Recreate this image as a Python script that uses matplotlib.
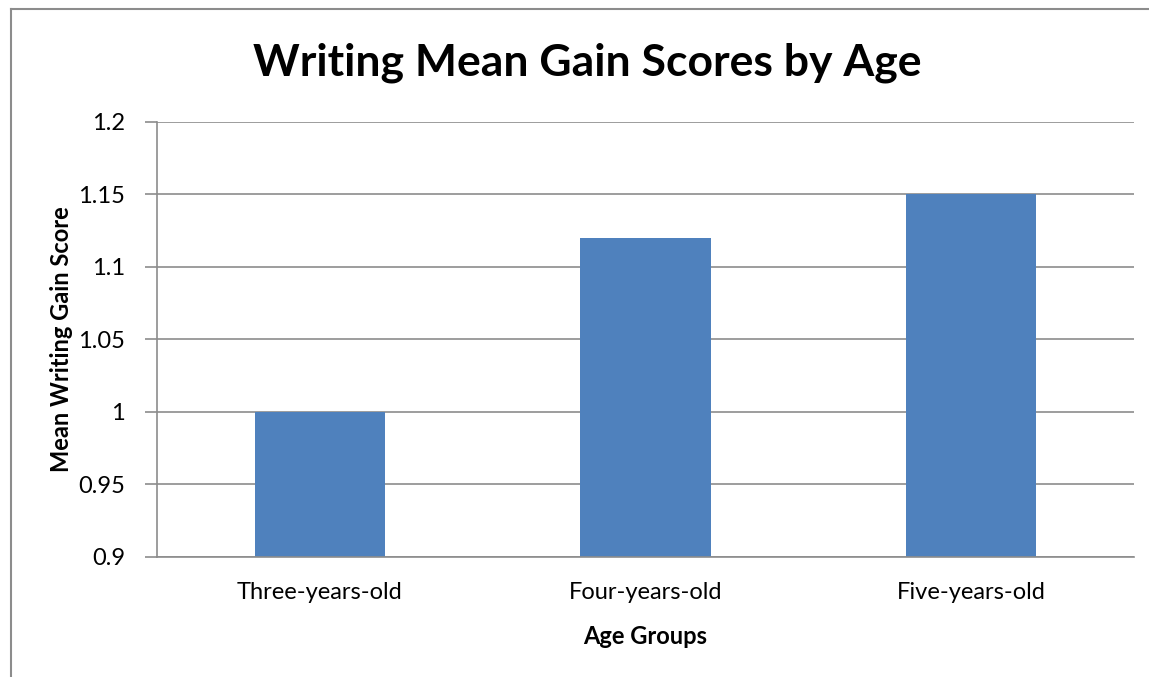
import matplotlib.pyplot as plt
from matplotlib.lines import Line2D

groups = ['Three-years-old', 'Four-years-old', 'Five-years-old']
gains = [1.00, 1.12, 1.15]
yticks = [0.9, 0.95, 1.0, 1.05, 1.1, 1.15, 1.2]
ytick_labels = ['0.9', '0.95', '1', '1.05', '1.1', '1.15', '1.2']

plt.rcParams['font.family'] = ['Lato', 'DejaVu Sans']

fig = plt.figure(figsize=(11.49, 6.77), dpi=100)
ax = fig.add_axes([0.1366, 0.1773, 0.8503, 0.6425])

x = range(len(groups))
ax.bar(x, gains, width=0.4, color='#4F81BD', zorder=2)
ax.set_xlim(-0.5, 2.5)
ax.set_ylim(0.9, 1.2)
ax.set_yticks(yticks)
ax.set_yticklabels(ytick_labels)
ax.set_xticks(list(x))
ax.set_xticklabels(groups)
ax.yaxis.grid(True, color='#8c8c8c', linewidth=1.2, zorder=1)
ax.set_axisbelow(True)

for s in ['top', 'right']:
    ax.spines[s].set_visible(False)
for s in ['left', 'bottom']:
    ax.spines[s].set_color('#8c8c8c')
    ax.spines[s].set_linewidth(1.2)
ax.tick_params(axis='y', length=9, color='#8c8c8c', width=1.2, labelsize=17, pad=14)
ax.tick_params(axis='x', length=0, labelsize=17, pad=18)

fig.suptitle('Writing Mean Gain Scores by Age', x=0.511, y=0.908, va='center',
             fontsize=32, fontweight='bold')
ax.set_ylabel('Mean Writing Gain Score', fontsize=17, fontweight='bold')
ax.yaxis.set_label_coords(-0.086, 0.5)
ax.set_xlabel('Age Groups', fontsize=17, fontweight='bold', labelpad=16)

# chart frame (top and left edges visible)
fig.add_artist(Line2D([0.0096, 0.0096], [0, 0.9867], color='#8c8c8c', linewidth=1.5, transform=fig.transFigure))
fig.add_artist(Line2D([0.0096, 1.0], [0.9867, 0.9867], color='#8c8c8c', linewidth=1.5, transform=fig.transFigure))

fig.savefig('out.png', dpi=100)
